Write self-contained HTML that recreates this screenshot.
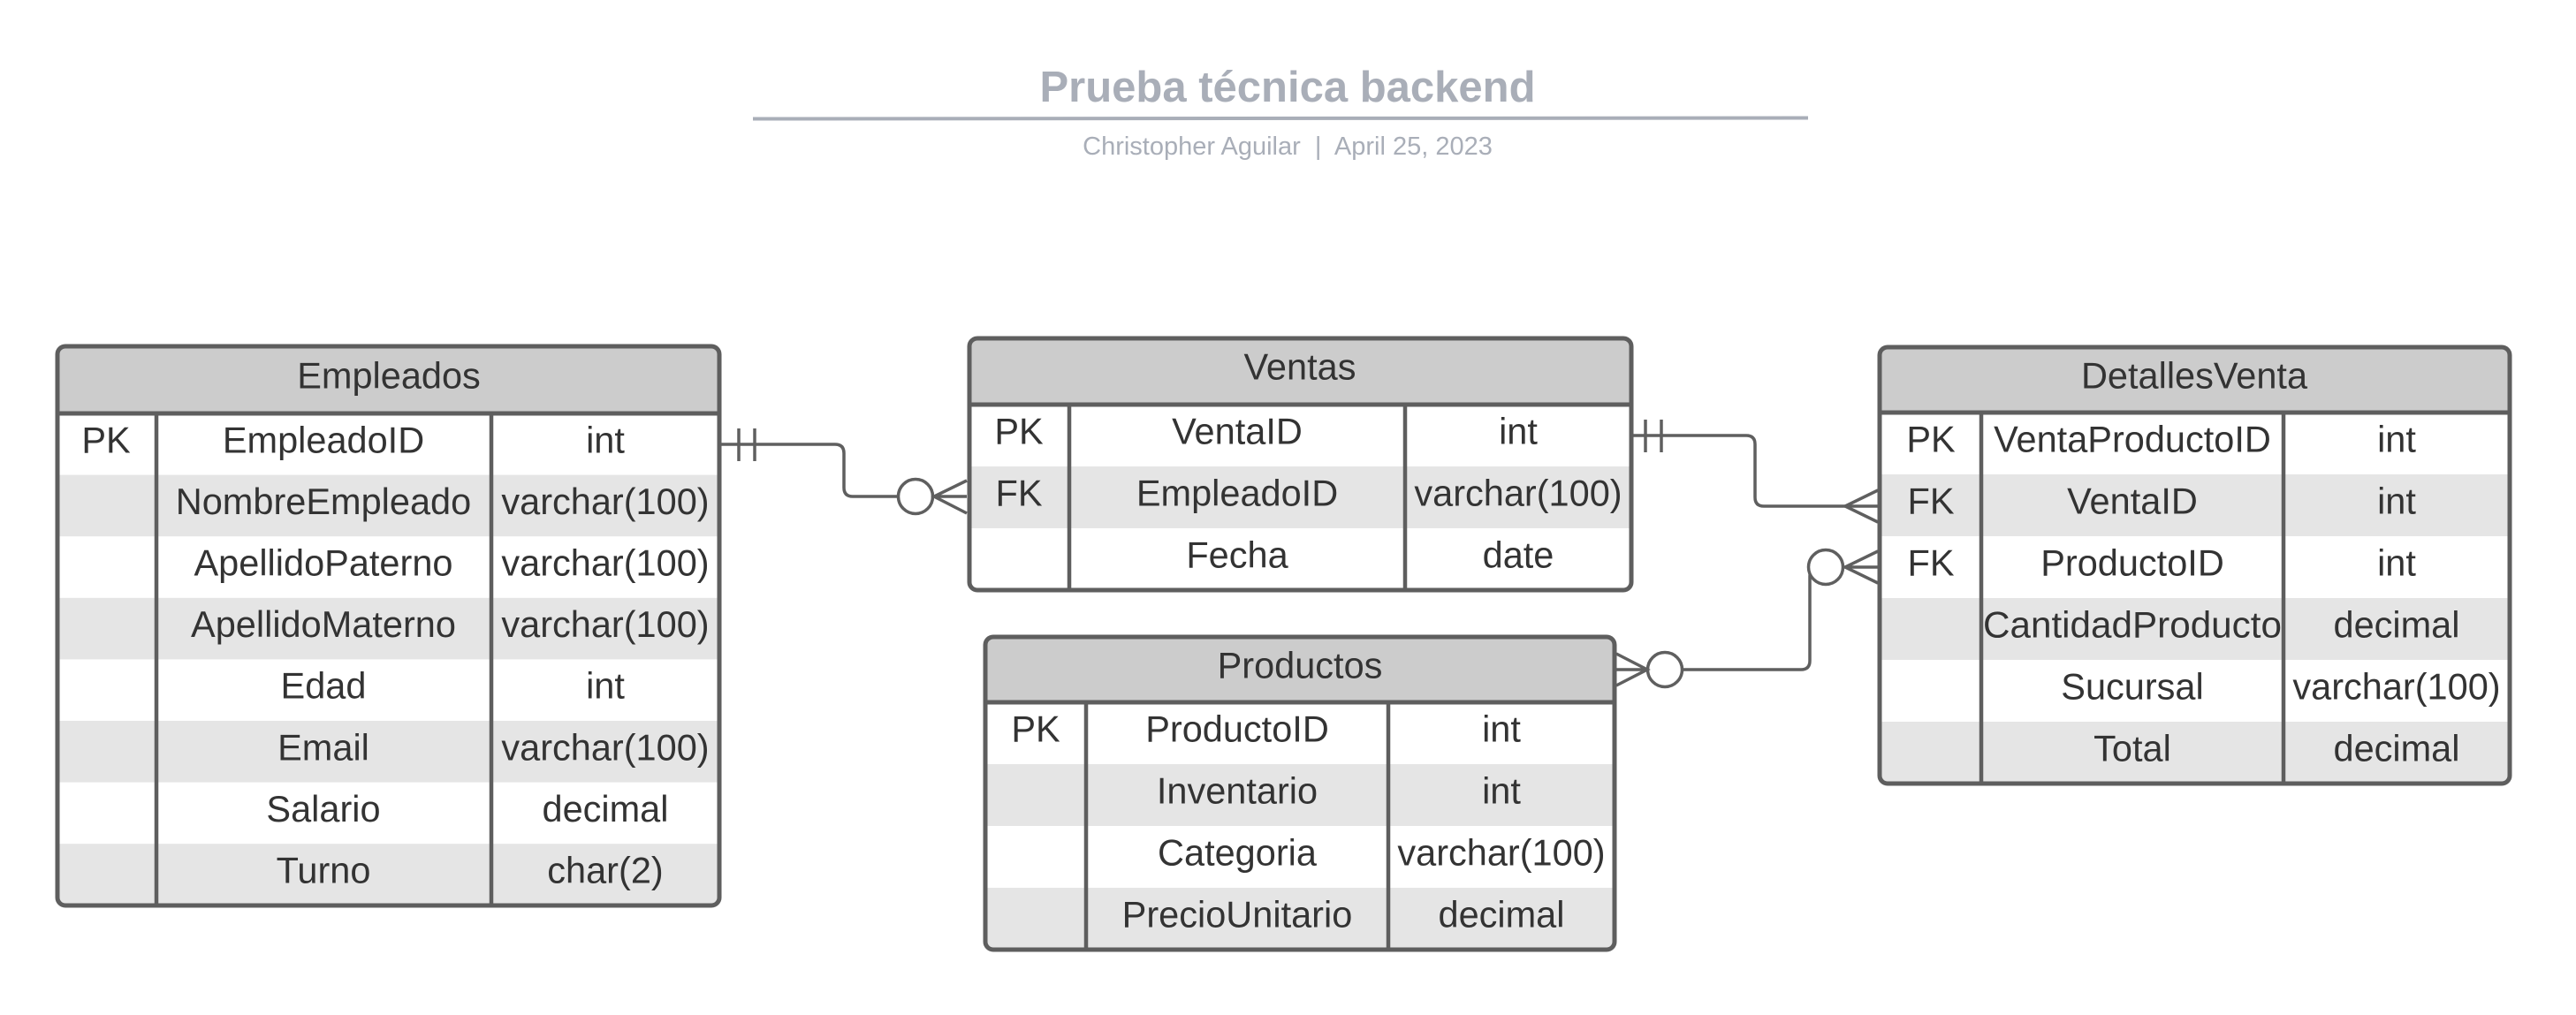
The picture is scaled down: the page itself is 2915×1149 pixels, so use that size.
<!DOCTYPE html>
<html><head><meta charset="utf-8"><style>
html,body{margin:0;padding:0;background:#fff;}
svg{display:block;}
text{font-family:"Liberation Sans",sans-serif;}
</style></head><body>
<svg width="2915" height="1149" viewBox="0 0 2915 1149" xmlns="http://www.w3.org/2000/svg">
<defs>
<clipPath id="cE"><rect x="65" y="392" width="749" height="633" rx="9"/></clipPath>
<clipPath id="cV"><rect x="1097" y="383" width="749" height="285" rx="9"/></clipPath>
<clipPath id="cP"><rect x="1115" y="721" width="712" height="354" rx="9"/></clipPath>
<clipPath id="cD"><rect x="2127" y="393" width="713" height="494" rx="9"/></clipPath>
</defs>

<!-- Title -->
<text x="1457" y="99" text-anchor="middle" dominant-baseline="central" font-size="49" font-weight="bold" fill="#a9aeb8">Prueba técnica backend</text>
<line x1="852" y1="134.5" x2="2046" y2="133.5" stroke="#a9aeb8" stroke-width="4"/>
<text x="1457" y="166" text-anchor="middle" dominant-baseline="central" font-size="29" fill="#a9aeb8" xml:space="preserve">Christopher Aguilar  |  April 25, 2023</text>

<!-- Empleados -->
<g clip-path="url(#cE)">
<rect x="65" y="392" width="749" height="633" fill="#fff"/>
<rect x="65" y="392" width="749" height="76" fill="#cccccc"/>
<rect x="65" y="537.6" width="749" height="69.6" fill="#e5e5e5"/>
<rect x="65" y="676.8" width="749" height="69.6" fill="#e5e5e5"/>
<rect x="65" y="816" width="749" height="69.6" fill="#e5e5e5"/>
<rect x="65" y="955.2" width="749" height="69.6" fill="#e5e5e5"/>
</g>
<line x1="65" y1="468" x2="814" y2="468" stroke="#5e5e5e" stroke-width="5"/>
<line x1="177" y1="468" x2="177" y2="1025" stroke="#5e5e5e" stroke-width="4.5"/>
<line x1="556" y1="468" x2="556" y2="1025" stroke="#5e5e5e" stroke-width="4.5"/>
<rect x="65" y="392" width="749" height="633" rx="9" fill="none" stroke="#5e5e5e" stroke-width="5"/>
<g font-size="41.5" fill="#333" text-anchor="middle" dominant-baseline="central" transform="translate(0,-5)">
<text x="440" y="430">Empleados</text>
<text x="120" y="502.8">PK</text>
<text x="366" y="502.8">EmpleadoID</text><text x="685" y="502.8">int</text>
<text x="366" y="572.4">NombreEmpleado</text><text x="685" y="572.4">varchar(100)</text>
<text x="366" y="642">ApellidoPaterno</text><text x="685" y="642">varchar(100)</text>
<text x="366" y="711.6">ApellidoMaterno</text><text x="685" y="711.6">varchar(100)</text>
<text x="366" y="781.2">Edad</text><text x="685" y="781.2">int</text>
<text x="366" y="850.8">Email</text><text x="685" y="850.8">varchar(100)</text>
<text x="366" y="920.4">Salario</text><text x="685" y="920.4">decimal</text>
<text x="366" y="990">Turno</text><text x="685" y="990">char(2)</text>
</g>

<!-- Ventas -->
<g clip-path="url(#cV)">
<rect x="1097" y="383" width="749" height="285" fill="#fff"/>
<rect x="1097" y="383" width="749" height="75" fill="#cccccc"/>
<rect x="1097" y="528" width="749" height="70" fill="#e5e5e5"/>
</g>
<line x1="1097" y1="458" x2="1846" y2="458" stroke="#5e5e5e" stroke-width="5"/>
<line x1="1210" y1="458" x2="1210" y2="668" stroke="#5e5e5e" stroke-width="4.5"/>
<line x1="1590" y1="458" x2="1590" y2="668" stroke="#5e5e5e" stroke-width="4.5"/>
<rect x="1097" y="383" width="749" height="285" rx="9" fill="none" stroke="#5e5e5e" stroke-width="5"/>
<g font-size="41.5" fill="#333" text-anchor="middle" dominant-baseline="central" transform="translate(0,-5)">
<text x="1471" y="420">Ventas</text>
<text x="1153" y="493">PK</text>
<text x="1400" y="493">VentaID</text><text x="1718" y="493">int</text>
<text x="1153" y="563">FK</text>
<text x="1400" y="563">EmpleadoID</text><text x="1718" y="563">varchar(100)</text>
<text x="1400" y="633">Fecha</text><text x="1718" y="633">date</text>
</g>

<!-- Productos -->
<g clip-path="url(#cP)">
<rect x="1115" y="721" width="712" height="354" fill="#fff"/>
<rect x="1115" y="721" width="712" height="74" fill="#cccccc"/>
<rect x="1115" y="865" width="712" height="70" fill="#e5e5e5"/>
<rect x="1115" y="1005" width="712" height="70" fill="#e5e5e5"/>
</g>
<line x1="1115" y1="795" x2="1827" y2="795" stroke="#5e5e5e" stroke-width="5"/>
<line x1="1229" y1="795" x2="1229" y2="1075" stroke="#5e5e5e" stroke-width="4.5"/>
<line x1="1571" y1="795" x2="1571" y2="1075" stroke="#5e5e5e" stroke-width="4.5"/>
<rect x="1115" y="721" width="712" height="354" rx="9" fill="none" stroke="#5e5e5e" stroke-width="5"/>
<g font-size="41.5" fill="#333" text-anchor="middle" dominant-baseline="central" transform="translate(0,-5)">
<text x="1471" y="758">Productos</text>
<text x="1172" y="830">PK</text>
<text x="1400" y="830">ProductoID</text><text x="1699" y="830">int</text>
<text x="1400" y="900">Inventario</text><text x="1699" y="900">int</text>
<text x="1400" y="970">Categoria</text><text x="1699" y="970">varchar(100)</text>
<text x="1400" y="1040">PrecioUnitario</text><text x="1699" y="1040">decimal</text>
</g>

<!-- DetallesVenta -->
<g clip-path="url(#cD)">
<rect x="2127" y="393" width="713" height="494" fill="#fff"/>
<rect x="2127" y="393" width="713" height="74" fill="#cccccc"/>
<rect x="2127" y="537" width="713" height="70" fill="#e5e5e5"/>
<rect x="2127" y="677" width="713" height="70" fill="#e5e5e5"/>
<rect x="2127" y="817" width="713" height="70" fill="#e5e5e5"/>
</g>
<line x1="2127" y1="467" x2="2840" y2="467" stroke="#5e5e5e" stroke-width="5"/>
<line x1="2242" y1="467" x2="2242" y2="887" stroke="#5e5e5e" stroke-width="4.5"/>
<line x1="2584" y1="467" x2="2584" y2="887" stroke="#5e5e5e" stroke-width="4.5"/>
<rect x="2127" y="393" width="713" height="494" rx="9" fill="none" stroke="#5e5e5e" stroke-width="5"/>
<g font-size="41.5" fill="#333" text-anchor="middle" dominant-baseline="central" transform="translate(0,-5)">
<text x="2483" y="430">DetallesVenta</text>
<text x="2185" y="502">PK</text>
<text x="2413" y="502">VentaProductoID</text><text x="2712" y="502">int</text>
<text x="2185" y="572">FK</text>
<text x="2413" y="572">VentaID</text><text x="2712" y="572">int</text>
<text x="2185" y="642">FK</text>
<text x="2413" y="642">ProductoID</text><text x="2712" y="642">int</text>
<text x="2413" y="712" textLength="338" lengthAdjust="spacingAndGlyphs">CantidadProducto</text><text x="2712" y="712">decimal</text>
<text x="2413" y="782">Sucursal</text><text x="2712" y="782">varchar(100)</text>
<text x="2413" y="852">Total</text><text x="2712" y="852">decimal</text>
</g>

<!-- Connectors -->
<g fill="none" stroke="#5f5f5f" stroke-width="3.5">
<path d="M816 503 H945 Q955 503 955 513 V552 Q955 562 965 562 H1016"/>
<line x1="836" y1="485" x2="836" y2="522"/>
<line x1="854" y1="485" x2="854" y2="522"/>
<circle cx="1036" cy="562" r="19.5"/>
<path d="M1094 544 L1057 562 L1094 581 M1057 562 H1094"/>
<path d="M1848 493 H1976 Q1986 493 1986 503 V563 Q1986 573 1996 573 H2125"/>
<line x1="1862" y1="475" x2="1862" y2="512"/>
<line x1="1880" y1="475" x2="1880" y2="512"/>
<path d="M2125 555 L2088 573 L2125 591"/>
<path d="M1829 740 L1864 758 L1829 776 M1829 758 H1864"/>
<circle cx="1884" cy="758" r="19.5"/>
<path d="M1904 758 H2038 Q2048 758 2048 748 V652 Q2048 642 2058 642 H2066"/>
<circle cx="2066" cy="642" r="19.5" fill="#fff"/>
<path d="M2125 624 L2088 642 L2125 660 M2086 642 H2125"/>
</g>
</svg>
</body></html>
